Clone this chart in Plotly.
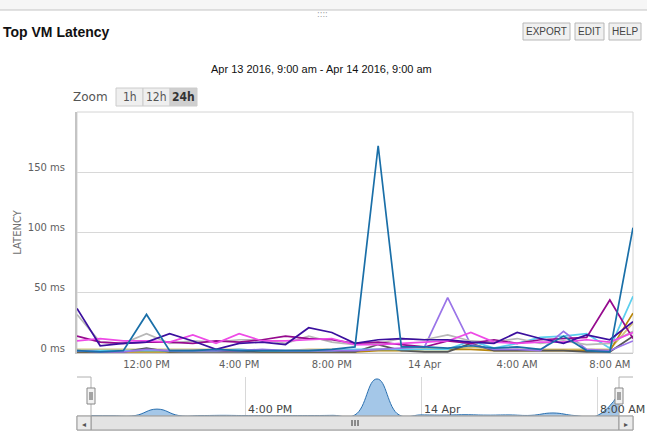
import pandas as pd
import plotly.graph_objects as go

# ---------------- data ----------------
times = pd.date_range("2016-04-13 09:00", "2016-04-14 09:00", freq="h")

vm_blue = [2, 1, 2, 32, 2, 2, 3, 2, 2, 2, 2, 3, 5, 172, 5, 5, 4, 6, 4, 5, 3, 14, 2, 1, 104]
vm_indigo = [37, 6, 8, 9, 16, 10, 3, 8, 9, 7, 21, 17, 8, 11, 12, 11, 11, 9, 8, 17, 12, 8, 15, 11, 26]
vm_grey = [32, 9, 8, 16, 8, 10, 9, 11, 11, 8, 14, 9, 7, 8, 12, 11, 15, 10, 9, 12, 8, 10, 7, 8, 18]
vm_pink = [10, 12, 10, 10, 9, 15, 8, 16, 10, 10, 11, 12, 7, 7, 8, 9, 10, 17, 9, 8, 9, 9, 11, 9, 17]
vm_magenta = [14, 9, 8, 9, 9, 8, 10, 9, 11, 14, 12, 11, 8, 9, 7, 5, 10, 8, 11, 8, 11, 12, 13, 44, 12]
vm_lavender = [2, 1, 1, 3, 2, 2, 2, 2, 3, 2, 2, 2, 2, 3, 4, 5, 46, 7, 3, 3, 2, 18, 3, 2, 10]
vm_cyan = [2, 2, 2, 2, 2, 2, 2, 3, 2, 2, 2, 2, 3, 3, 3, 3, 3, 10, 4, 8, 13, 14, 16, 4, 47]
vm_gold = [1, 1, 1, 1, 1, 2, 2, 2, 1, 1, 1, 1, 1, 2, 2, 3, 3, 3, 2, 2, 2, 2, 2, 2, 33]
vm_khaki = [3, 3, 3, 3, 3, 3, 3, 3, 2, 2, 3, 3, 2, 3, 3, 3, 3, 5, 3, 3, 3, 3, 3, 3, 25]
vm_darkgrey = [1, 1, 1, 4, 1, 1, 1, 1, 1, 1, 1, 1, 1, 7, 2, 1, 1, 8, 2, 2, 2, 2, 1, 1, 14]

series = [
    ("vm-01", vm_khaki, "#d6c27a"),
    ("vm-02", vm_gold, "#b8860b"),
    ("vm-03", vm_darkgrey, "#555555"),
    ("vm-04", vm_cyan, "#5ccfee"),
    ("vm-05", vm_lavender, "#9a74e8"),
    ("vm-06", vm_grey, "#b8b8b8"),
    ("vm-07", vm_magenta, "#960a8e"),
    ("vm-08", vm_pink, "#ee4ae6"),
    ("vm-09", vm_indigo, "#3b0f9e"),
    ("vm-10", vm_blue, "#1a6fa8"),
]

main_tickvals = ["2016-04-13 12:00", "2016-04-13 16:00", "2016-04-13 20:00",
                 "2016-04-14 00:00", "2016-04-14 04:00", "2016-04-14 08:00"]
main_ticktext = ["12:00 PM", "4:00 PM", "8:00 PM", "14 Apr", "4:00 AM", "8:00 AM"]
nav_tickvals = ["2016-04-13 16:00", "2016-04-14 00:00", "2016-04-14 08:00"]
nav_ticktext = ["4:00 PM", "14 Apr", "8:00 AM"]
y_tickvals = [0, 50, 100, 150]
y_ticktext = ["0 ms", "50 ms", "100 ms", "150 ms"]

title_text = "Top VM Latency"
subtitle_text = "Apr 13 2016, 9:00 am - Apr 14 2016, 9:00 am"
header_buttons = ["EXPORT", "EDIT", "HELP"]
zoom_buttons = ["1h", "12h", "24h"]

# ---------------- layout helpers ----------------
W, H = 647, 441
L, R, T, B = 77, 14, 112, 11
PW, PH = W - L - R, H - T - B


def px(x):
    return (x - L) / PW


def py(y):
    return (H - B - y) / PH


fig = go.Figure()
for name, vals, col in series:
    fig.add_trace(go.Scatter(x=times, y=vals, mode="lines", name=name,
                             line=dict(color=col, width=1.7),
                             xaxis="x", yaxis="y", hoverinfo="skip"))

# navigator
fig.add_trace(go.Scatter(x=times, y=vm_blue, mode="lines", fill="tozeroy",
                         line=dict(color="#2a70b0", width=1, shape="spline", smoothing=1.3),
                         fillcolor="rgba(125,175,222,0.7)",
                         xaxis="x2", yaxis="y2", hoverinfo="skip", showlegend=False))

shapes = []
annotations = []

# top strip
shapes.append(dict(type="rect", xref="paper", yref="paper", x0=px(0), x1=px(W), y0=py(10), y1=py(0),
                   fillcolor="#f6f6f6", line=dict(width=0), layer="below"))
shapes.append(dict(type="line", xref="paper", yref="paper", x0=px(0), x1=px(W), y0=py(10), y1=py(10),
                   line=dict(color="#c4c4c4", width=1)))
annotations.append(dict(text="::::", x=px(322), y=py(15), xref="paper", yref="paper", showarrow=False,
                        font=dict(family="DejaVu Sans", size=8, color="#999999"),
                        xanchor="center", yanchor="middle"))

annotations.append(dict(text="<b>" + title_text + "</b>", x=px(1), y=py(32), xref="paper", yref="paper",
                        showarrow=False, xanchor="left", yanchor="middle",
                        font=dict(family="Liberation Sans", size=14, color="#111111")))
annotations.append(dict(text=subtitle_text, x=px(321), y=py(69), xref="paper", yref="paper",
                        showarrow=False, xanchor="center", yanchor="middle",
                        font=dict(family="Liberation Sans", size=11, color="#111111")))

# header buttons
btn_x = [(523, 570), (575, 604), (609, 641)]
for (x0, x1), lab in zip(btn_x, header_buttons):
    shapes.append(dict(type="rect", xref="paper", yref="paper", x0=px(x0), x1=px(x1), y0=py(40), y1=py(23),
                       fillcolor="#f0f0f0", line=dict(color="#b8b8b8", width=1)))
    annotations.append(dict(text=lab, x=px((x0 + x1) / 2), y=py(31.5), xref="paper", yref="paper",
                            showarrow=False, xanchor="center", yanchor="middle",
                            font=dict(family="Liberation Sans", size=10, color="#444444")))

# zoom buttons
annotations.append(dict(text="Zoom", x=px(110), y=py(97), xref="paper", yref="paper", showarrow=False,
                        xanchor="right", yanchor="middle",
                        font=dict(family="DejaVu Sans", size=12, color="#555555")))
zb_x = [(116, 143), (143, 170), (170, 197)]
for (x0, x1), lab in zip(zb_x, zoom_buttons):
    sel = lab == "24h"
    shapes.append(dict(type="rect", xref="paper", yref="paper", x0=px(x0), x1=px(x1), y0=py(106), y1=py(88),
                       fillcolor="#cfcfcf" if sel else "#efefef", line=dict(color="#cccccc", width=1)))
    annotations.append(dict(text=("<b>%s</b>" % lab) if sel else lab, x=px((x0 + x1) / 2), y=py(97),
                            xref="paper", yref="paper", showarrow=False,
                            xanchor="center", yanchor="middle",
                            font=dict(family="DejaVu Sans Condensed, DejaVu Sans", size=12,
                                      color="#333333" if sel else "#555555")))

# plot border
shapes.append(dict(type="rect", xref="x domain", yref="y domain", x0=0, x1=1, y0=0, y1=1,
                   line=dict(color="#d4d4d4", width=1), layer="below"))

# navigator labels (placed on the navigator's own date axis)
for tv, tt in zip(nav_tickvals, nav_ticktext):
    annotations.append(dict(text=tt, x=tv, y=py(409), xref="x2", yref="paper", showarrow=False,
                            xanchor="left", yanchor="middle", xshift=1,
                            font=dict(family="DejaVu Sans", size=11, color="#444444")))

# navigator outline and handles
nav_top, nav_bot = 377, 416
for xa, xb in [(77, 91), (619, 633)]:
    shapes.append(dict(type="line", xref="paper", yref="paper", x0=px(xa), x1=px(xb), y0=py(nav_top),
                       y1=py(nav_top), line=dict(color="#b0b0b0", width=1)))
for xv in [91, 619]:
    shapes.append(dict(type="line", xref="paper", yref="paper", x0=px(xv), x1=px(xv), y0=py(nav_top),
                       y1=py(nav_bot), line=dict(color="#b0b0b0", width=1)))
    shapes.append(dict(type="rect", xref="paper", yref="paper", x0=px(xv - 4), x1=px(xv + 4),
                       y0=py(404), y1=py(388), fillcolor="#f2f2f2", line=dict(color="#888888", width=1)))
    for dx in (-1, 1):
        shapes.append(dict(type="line", xref="paper", yref="paper", x0=px(xv + dx), x1=px(xv + dx),
                           y0=py(400), y1=py(392), line=dict(color="#555555", width=1)))

# scrollbar
sb_top, sb_bot = 416, 430
shapes.append(dict(type="rect", xref="paper", yref="paper", x0=px(77), x1=px(633), y0=py(sb_bot),
                   y1=py(sb_top), fillcolor="#eeeeee", line=dict(color="#bbbbbb", width=1)))
shapes.append(dict(type="rect", xref="paper", yref="paper", x0=px(91), x1=px(619), y0=py(sb_bot),
                   y1=py(sb_top), fillcolor="#e3e3e3", line=dict(color="#999999", width=1)))
for xa, xb in [(77, 91), (619, 633)]:
    shapes.append(dict(type="rect", xref="paper", yref="paper", x0=px(xa), x1=px(xb), y0=py(sb_bot),
                       y1=py(sb_top), fillcolor="#ebebeb", line=dict(color="#999999", width=1)))
for xv in (352, 355, 358):
    shapes.append(dict(type="line", xref="paper", yref="paper", x0=px(xv), x1=px(xv), y0=py(426),
                       y1=py(420), line=dict(color="#333333", width=1)))
annotations.append(dict(text="◂", x=px(84), y=py(423), xref="paper", yref="paper", showarrow=False,
                        xanchor="center", yanchor="middle", font=dict(size=8, color="#555555")))
annotations.append(dict(text="▸", x=px(626), y=py(423), xref="paper", yref="paper", showarrow=False,
                        xanchor="center", yanchor="middle", font=dict(size=8, color="#555555")))

fig.update_layout(
    width=W, height=H,
    margin=dict(l=L, r=R, t=T, b=B, pad=0, autoexpand=False),
    paper_bgcolor="white", plot_bgcolor="white",
    showlegend=False, hovermode=False,
    shapes=shapes, annotations=annotations,
    xaxis=dict(domain=[0, 1], anchor="y", type="date", automargin=False,
               range=["2016-04-13 09:00", "2016-04-14 09:00"],
               tickvals=main_tickvals, ticktext=main_ticktext,
               showgrid=False, zeroline=False, showline=True, linecolor="#c8c8c8", linewidth=1,
               ticks="", ticklabelstandoff=2,
               tickfont=dict(family="DejaVu Sans", size=10, color="#606060")),
    yaxis=dict(domain=[py(353), 1], anchor="x", range=[0, 200], automargin=False,
               tickvals=y_tickvals, ticktext=y_ticktext,
               showgrid=True, gridcolor="#d8d8d8", gridwidth=1, zeroline=False,
               showline=True, linecolor="#c4c4c4", linewidth=2,
               ticks="", ticklabelstandoff=8, ticklabelshift=-5,
               tickfont=dict(family="DejaVu Sans", size=10, color="#606060"),
               title=dict(text="LATENCY", standoff=4,
                          font=dict(family="DejaVu Sans", size=10, color="#707070"))),
    xaxis2=dict(domain=[px(91), px(619)], anchor="y2", type="date", automargin=False,
                range=["2016-04-13 09:00", "2016-04-14 09:00"],
                tickvals=nav_tickvals, showticklabels=False,
                showgrid=True, gridcolor="#d8d8d8", zeroline=False, showline=False, ticks=""),
    yaxis2=dict(domain=[py(nav_bot), py(nav_top)], anchor="x2", range=[0, 181], automargin=False,
                showgrid=False, zeroline=False, showticklabels=False, showline=False),
)

fig.write_html("out.html")
